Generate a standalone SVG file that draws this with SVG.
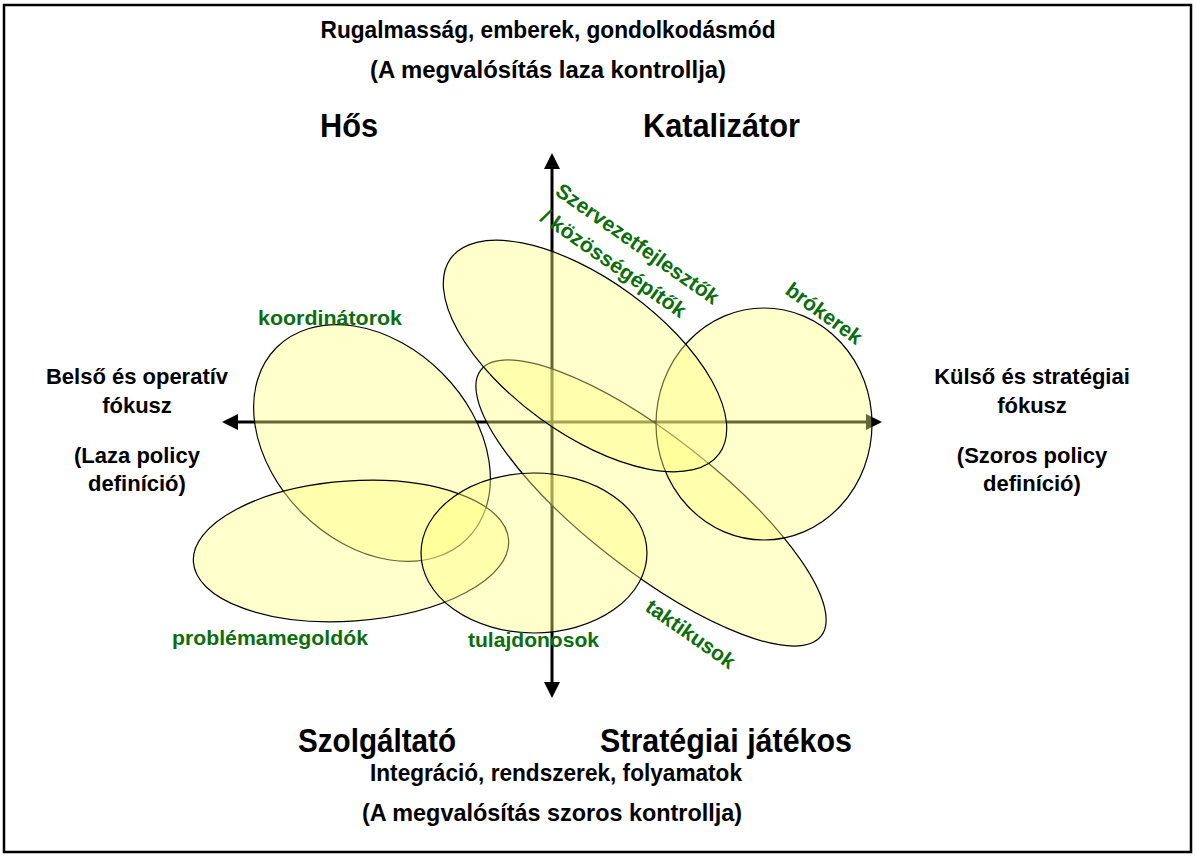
<svg xmlns="http://www.w3.org/2000/svg" width="1196" height="856" viewBox="0 0 1196 856">
<defs>
<marker id="arr" markerUnits="userSpaceOnUse" markerWidth="16" markerHeight="16" refX="0" refY="8" orient="auto-start-reverse" viewBox="0 0 16 16">
<path d="M0,0 L16,8 L0,16 z" fill="#000"/>
</marker>
<style>
.bg{fill:#fff}
.frame{fill:none;stroke:#000;stroke-width:2.5}
.axis{stroke:#000;stroke-width:3;fill:none}
.blob{fill:#ffff80;fill-opacity:0.4;stroke:#000;stroke-width:1.2}
.t{font-family:"Liberation Sans",Arial,sans-serif;font-weight:bold;fill:#000}
.h{font-size:22px}
.ttl{font-size:24px}
.big{font-size:34px}
.g{font-family:"Liberation Sans",Arial,sans-serif;font-weight:bold;font-size:21px;fill:#0b6e0b}
</style>
</defs>
<rect class="bg" x="0" y="0" width="1196" height="856"/>
<rect class="frame" x="4" y="5" width="1187" height="847"/>

<g id="connectors">
<line class="axis" x1="238" y1="422" x2="866" y2="422" marker-start="url(#arr)" marker-end="url(#arr)"/>
<line class="axis" x1="552" y1="169" x2="552" y2="682" marker-start="url(#arr)" marker-end="url(#arr)"/>
</g>

<g id="taktikusok">
<ellipse class="blob" cx="651" cy="503" rx="216" ry="67" transform="rotate(38 651 503)"/>
<text class="g" transform="translate(644,610) rotate(35)" textLength="104" lengthAdjust="spacingAndGlyphs">taktikusok</text>
</g>

<g id="brokerek">
<ellipse class="blob" cx="764" cy="424" rx="108" ry="116"/>
<text class="g" transform="translate(784,293) rotate(36)" textLength="89" lengthAdjust="spacingAndGlyphs">brókerek</text>
</g>

<g id="szervezetfejlesztok">
<ellipse class="blob" cx="585" cy="356" rx="166" ry="77" transform="rotate(36 585 356)"/>
<text class="g" transform="translate(554,194) rotate(35)" textLength="194" lengthAdjust="spacingAndGlyphs">Szervezetfejlesztők</text>
<text class="g" transform="translate(539,220) rotate(35)" textLength="172" lengthAdjust="spacingAndGlyphs">/ közösségépítők</text>
</g>

<g id="koordinatorok">
<ellipse class="blob" cx="372" cy="443" rx="135" ry="99" transform="rotate(45 372 443)"/>
<text class="g" x="258" y="325" textLength="144" lengthAdjust="spacingAndGlyphs">koordinátorok</text>
</g>

<g id="problemamegoldok">
<ellipse class="blob" cx="351" cy="551" rx="158" ry="70" transform="rotate(-4 351 551)"/>
<text class="g" x="172" y="645" textLength="196" lengthAdjust="spacingAndGlyphs">problémamegoldók</text>
</g>

<g id="tulajdonosok">
<ellipse class="blob" cx="534" cy="553" rx="113" ry="80"/>
<text class="g" x="468" y="647" textLength="131" lengthAdjust="spacingAndGlyphs">tulajdonosok</text>
</g>

<g id="top-title">
<text class="t ttl" x="548" y="38" text-anchor="middle" textLength="455" lengthAdjust="spacingAndGlyphs">Rugalmasság, emberek, gondolkodásmód</text>
<text class="t ttl" x="548" y="78" text-anchor="middle" textLength="356" lengthAdjust="spacingAndGlyphs">(A megvalósítás laza kontrollja)</text>
</g>

<g id="hos">
<text class="t big" x="320" y="137" textLength="58" lengthAdjust="spacingAndGlyphs">Hős</text>
</g>
<g id="katalizator">
<text class="t big" x="643" y="137" textLength="157" lengthAdjust="spacingAndGlyphs">Katalizátor</text>
</g>
<g id="szolgaltato">
<text class="t big" x="298" y="752" textLength="158" lengthAdjust="spacingAndGlyphs">Szolgáltató</text>
</g>
<g id="strategiai-jatekos">
<text class="t big" x="600" y="752" textLength="252" lengthAdjust="spacingAndGlyphs">Stratégiai játékos</text>
</g>

<g id="bottom-title">
<text class="t ttl" x="556" y="781" text-anchor="middle" textLength="372" lengthAdjust="spacingAndGlyphs">Integráció, rendszerek, folyamatok</text>
<text class="t ttl" x="552" y="821" text-anchor="middle" textLength="380" lengthAdjust="spacingAndGlyphs">(A megvalósítás szoros kontrollja)</text>
</g>

<g id="left-label">
<text class="t h" x="137" y="384" text-anchor="middle">Belső és operatív</text>
<text class="t h" x="137" y="413" text-anchor="middle">fókusz</text>
<text class="t h" x="137" y="463" text-anchor="middle">(Laza policy</text>
<text class="t h" x="137" y="491" text-anchor="middle">definíció)</text>
</g>

<g id="right-label">
<text class="t h" x="1032" y="384" text-anchor="middle">Külső és stratégiai</text>
<text class="t h" x="1032" y="413" text-anchor="middle">fókusz</text>
<text class="t h" x="1032" y="463" text-anchor="middle">(Szoros policy</text>
<text class="t h" x="1032" y="491" text-anchor="middle">definíció)</text>
</g>
</svg>
